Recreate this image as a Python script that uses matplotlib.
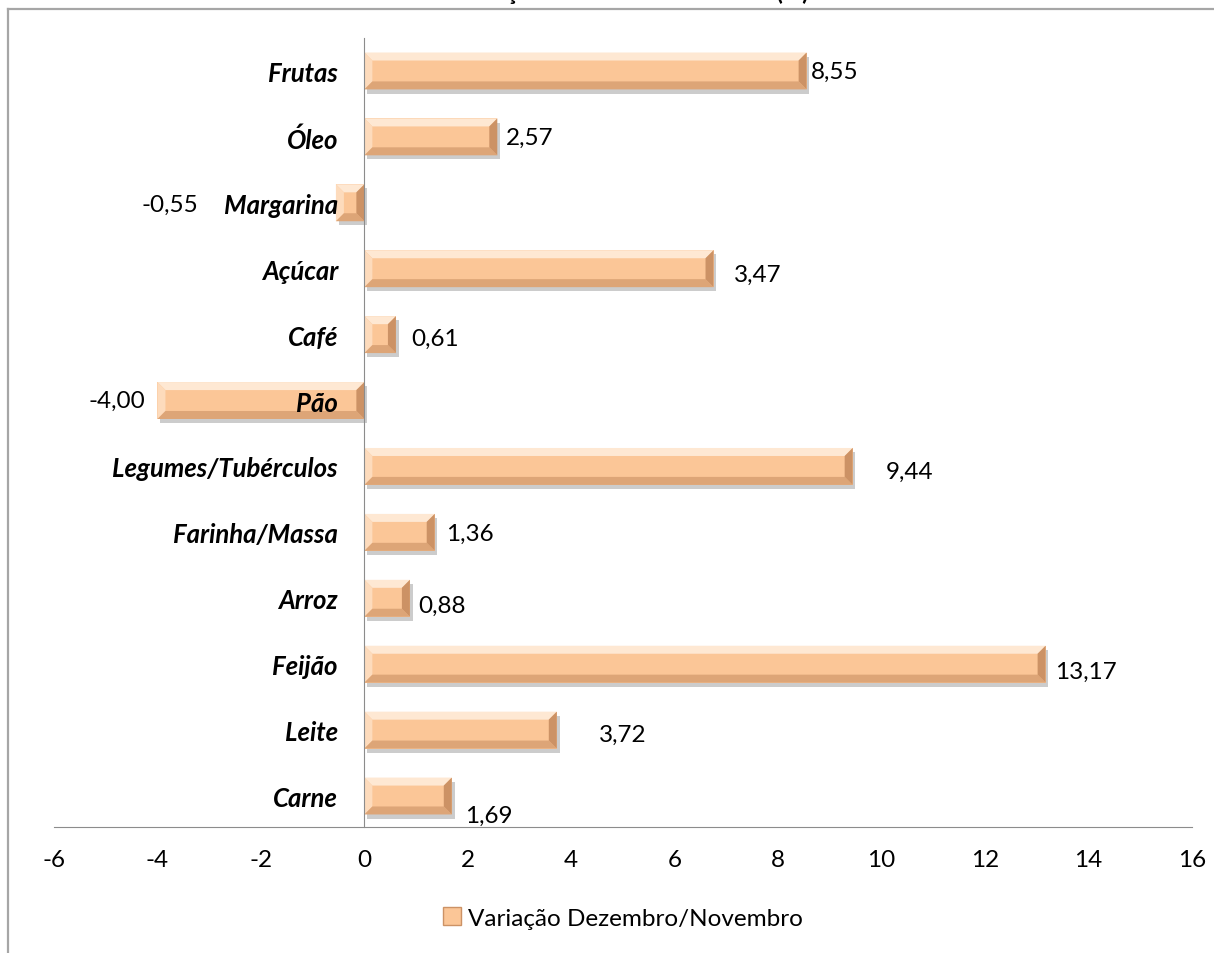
import numpy as np
import matplotlib
matplotlib.use("Agg")
import matplotlib.pyplot as plt
from matplotlib.lines import Line2D
from matplotlib.patches import Patch
import matplotlib.patheffects as pe

plt.rcParams['font.family'] = ['Lato', 'DejaVu Sans']
plt.rcParams['axes.unicode_minus'] = False

### data (bottom to top, as in the sheet)
categorias = ['Carne', 'Leite', 'Feijão', 'Arroz', 'Farinha/Massa', 'Legumes/Tubérculos',
              'Pão', 'Café', 'Açúcar', 'Margarina', 'Óleo', 'Frutas']
valores = [1.69, 3.72, 13.17, 0.88, 1.36, 9.44, -4.00, 0.61, 6.75, -0.55, 2.57, 8.55]
rotulos = ['1,69', '3,72', '13,17', '0,88', '1,36', '9,44', '-4,00', '0,61', '3,47', '-0,55', '2,57', '8,55']
serie = 'Variação Dezembro/Novembro'
xticks = [-6, -4, -2, 0, 2, 4, 6, 8, 10, 12, 14, 16]

# label nudges in pixels (dx, dy down), as they were dragged in the original sheet
nudges = [(13, 19), (42, 4), (9, 7), (8, 7), (11, 1), (33, 5),
          (-12, 0), (15, 4), (20, 6), (-138, 2), (9, 0), (4, 0)]

base = '#FBC697'
c_top, c_left, c_bot, c_right = '#FEE8D3', '#FDDBBC', '#DDA577', '#CC9265'

W, H = 1214, 954
fig = plt.figure(figsize=(W / 100, H / 100), dpi=100)
ax = fig.add_axes([54 / W, 1 - 828 / H, (1192 - 54) / W, (828 - 39) / H])

y = np.arange(len(categorias))
h = 0.56
bars = ax.barh(y, valores, height=h, color=base, linewidth=0, zorder=2)
for b in bars:
    b.set_path_effects([pe.SimplePatchShadow(offset=(2, -3), shadow_rgbFace='#808080', alpha=0.4),
                        pe.Normal()])

ax.set_xlim(-6, 16)
ax.set_ylim(-0.47, 11.5)

## bevel on each bar
bx = 8 / 51.75
by = 8 / 65.9
for yi, v in zip(y, valores):
    x0, x1 = min(0, v), max(0, v)
    y0, y1 = yi - h / 2, yi + h / 2
    ax.fill([x0, x1, x1 - bx, x0 + bx], [y1, y1, y1 - by, y1 - by], color=c_top, lw=0, zorder=3)
    ax.fill([x0, x0 + bx, x0 + bx, x0], [y1, y1 - by, y0 + by, y0], color=c_left, lw=0, zorder=3)
    ax.fill([x0, x1, x1 - bx, x0 + bx], [y0, y0, y0 + by, y0 + by], color=c_bot, lw=0, zorder=3)
    ax.fill([x1, x1, x1 - bx, x1 - bx], [y1, y0, y0 + by, y1 - by], color=c_right, lw=0, zorder=3)

## data labels
for yi, v, r, (dx, dy) in zip(y, valores, rotulos, nudges):
    ax.annotate(r, xy=(v, yi), xytext=(dx, -dy), textcoords='offset pixels',
                ha='left' if v >= 0 else 'right', va='center', fontsize=17.5, color='black', zorder=5)

## axes look
for s in ['top', 'right']:
    ax.spines[s].set_visible(False)
ax.spines['left'].set_position(('data', 0))
ax.spines['left'].set_color('#8C8C8C')
ax.spines['bottom'].set_color('#8C8C8C')
ax.spines['left'].set_zorder(4)
ax.set_yticks(y)
ax.set_yticklabels(categorias, fontsize=18.5, fontweight='bold', fontstyle='italic')
ax.set_xticks(xticks)
ax.set_xticklabels([str(t) for t in xticks], fontsize=17.5)
ax.tick_params(axis='y', length=0, pad=19)
ax.tick_params(axis='x', length=0, pad=16)
for t in ax.get_yticklabels():
    t.set_zorder(6)
ax.yaxis.set_zorder(6)

## legend
handle = Patch(facecolor=base, edgecolor=c_right, linewidth=1)
fig.legend([handle], [serie], loc='center', bbox_to_anchor=(623 / W, 1 - 919 / H),
           frameon=False, fontsize=17.5, handlelength=0.75, handleheight=0.75, handletextpad=0.3)

## chart frame (cut at right and bottom) and clipped title
fig.add_artist(Line2D([8 / W, 1], [1 - 10 / H, 1 - 10 / H], transform=fig.transFigure,
                      color='#A6A6A6', lw=1.6))
fig.add_artist(Line2D([8 / W, 8 / W], [0, 1 - 10 / H], transform=fig.transFigure,
                      color='#A6A6A6', lw=1.6))
fig.text(630 / W, 1 - 0.5 / H, 'Variação Mensal dos Produtos (%)', ha='center', va='baseline',
         fontsize=17, fontweight='bold')

plt.savefig('out.png', dpi=100)
